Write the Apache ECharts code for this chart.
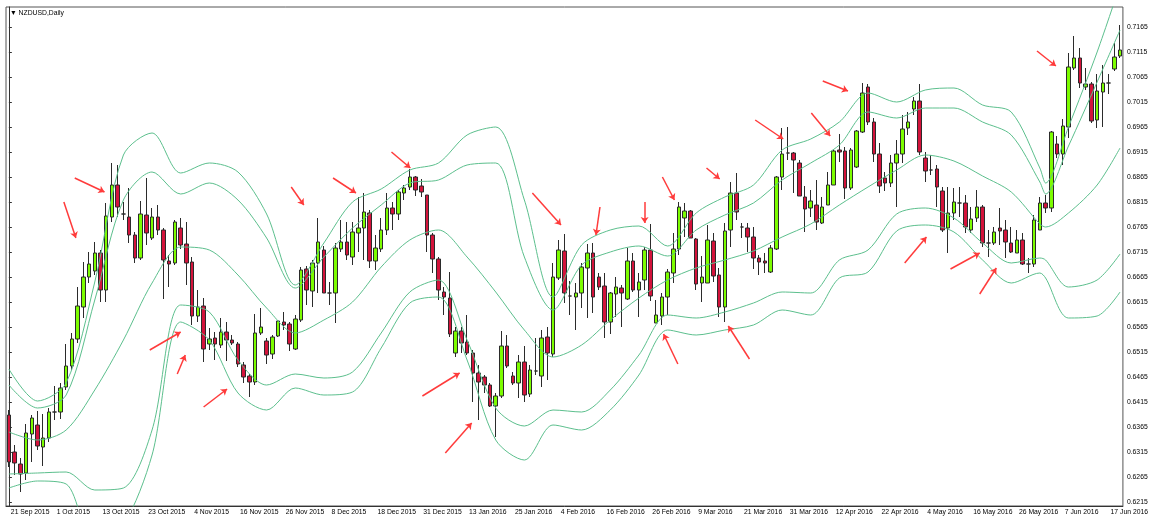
<!DOCTYPE html>
<html lang="en">
<head>
  <meta charset="UTF-8">
  <meta name="viewport" content="width=device-width, initial-scale=1.0">
  <title>NZDUSD,Daily</title>

  <style type="text/css">
    html, body {
      margin: 0;
      padding: 0;
      background: #fff;
    }
    #chart {
      width: 1151px;
      height: 517px;
    }
  </style>
</head>
<body>
  <div id="chart"></div>

  <script src="https://cdn.jsdelivr.net/npm/echarts@6.0.0/dist/echarts.min.js"></script>
  <script>
    // daily bars: every weekday from 21 Sep 2015, except the two closed days
    const firstDay = '2015-09-21'
    const closedDays = ['2015-12-25', '2016-01-01']
    const barCount = 195

    const opens = [
      0.6390, 0.6316, 0.6292, 0.6274, 0.6352, 0.6370, 0.6326, 0.6344, 0.6396, 0.6396,
      0.6446, 0.6488, 0.6542, 0.6606, 0.6666, 0.6678, 0.6714, 0.6640, 0.6786, 0.6850,
      0.6792, 0.6786, 0.6750, 0.6704, 0.6790, 0.6744, 0.6786, 0.6760, 0.6698, 0.6694,
      0.6764, 0.6732, 0.6696, 0.6588, 0.6608, 0.6532, 0.6544, 0.6530, 0.6556, 0.6540,
      0.6532, 0.6490, 0.6468, 0.6456, 0.6554, 0.6538, 0.6512, 0.6548, 0.6576, 0.6572,
      0.6522, 0.6580, 0.6682, 0.6638, 0.6694, 0.6720, 0.6634, 0.6634, 0.6722, 0.6736,
      0.6706, 0.6754, 0.6764, 0.6794, 0.6698, 0.6722, 0.6760, 0.6804, 0.6792, 0.6834,
      0.6846, 0.6866, 0.6848, 0.6830, 0.6750, 0.6702, 0.6636, 0.6624, 0.6514, 0.6558,
      0.6536, 0.6514, 0.6474, 0.6466, 0.6450, 0.6408, 0.6428, 0.6528, 0.6468, 0.6454,
      0.6496, 0.6432, 0.6478, 0.6468, 0.6546, 0.6512, 0.6664, 0.6718, 0.6628, 0.6626,
      0.6634, 0.6684, 0.6714, 0.6666, 0.6648, 0.6576, 0.6632, 0.6644, 0.6622, 0.6698,
      0.6640, 0.6660, 0.6720, 0.6574, 0.6588, 0.6626, 0.6674, 0.6722, 0.6784, 0.6798,
      0.6742, 0.6654, 0.6654, 0.6738, 0.6670, 0.6606, 0.6760, 0.6834, 0.6766, 0.6764,
      0.6746, 0.6704, 0.6698, 0.6676, 0.6722, 0.6866, 0.6914, 0.6914, 0.6894, 0.6826,
      0.6804, 0.6810, 0.6774, 0.6810, 0.6850, 0.6920, 0.6918, 0.6844, 0.6886, 0.6956,
      0.7046, 0.6976, 0.6912, 0.6864, 0.6854, 0.6894, 0.6912, 0.6964, 0.7002, 0.7018,
      0.6904, 0.6880, 0.6882, 0.6838, 0.6764, 0.6794, 0.6814, 0.6814, 0.6760, 0.6784,
      0.6806, 0.6734, 0.6734, 0.6764, 0.6760, 0.6734, 0.6714, 0.6740, 0.6692, 0.6692,
      0.6760, 0.6814, 0.6804, 0.6932, 0.6912, 0.6966, 0.7084, 0.7104, 0.7046, 0.7052,
      0.6980, 0.7036, 0.7054, 0.7082, 0.7108
    ]
    const closes = [
      0.6296, 0.6294, 0.6272, 0.6354, 0.6384, 0.6328, 0.6344, 0.6396, 0.6396, 0.6444,
      0.6488, 0.6542, 0.6608, 0.6666, 0.6692, 0.6714, 0.6640, 0.6788, 0.6850, 0.6806,
      0.6792, 0.6750, 0.6704, 0.6792, 0.6754, 0.6786, 0.6760, 0.6700, 0.6692, 0.6776,
      0.6730, 0.6694, 0.6588, 0.6606, 0.6522, 0.6542, 0.6532, 0.6556, 0.6540, 0.6534,
      0.6492, 0.6466, 0.6456, 0.6554, 0.6566, 0.6510, 0.6546, 0.6578, 0.6570, 0.6532,
      0.6582, 0.6680, 0.6640, 0.6694, 0.6736, 0.6634, 0.6634, 0.6724, 0.6736, 0.6710,
      0.6756, 0.6764, 0.6796, 0.6698, 0.6724, 0.6760, 0.6804, 0.6792, 0.6836, 0.6844,
      0.6866, 0.6840, 0.6836, 0.6750, 0.6702, 0.6640, 0.6626, 0.6552, 0.6558, 0.6534,
      0.6514, 0.6474, 0.6456, 0.6450, 0.6408, 0.6428, 0.6528, 0.6488, 0.6454, 0.6496,
      0.6430, 0.6480, 0.6478, 0.6544, 0.6514, 0.6666, 0.6720, 0.6634, 0.6628, 0.6634,
      0.6686, 0.6714, 0.6626, 0.6646, 0.6576, 0.6634, 0.6646, 0.6634, 0.6698, 0.6640,
      0.6656, 0.6720, 0.6628, 0.6590, 0.6626, 0.6676, 0.6722, 0.6806, 0.6798, 0.6744,
      0.6652, 0.6666, 0.6740, 0.6668, 0.6606, 0.6758, 0.6834, 0.6796, 0.6766, 0.6746,
      0.6704, 0.6696, 0.6694, 0.6724, 0.6866, 0.6912, 0.6914, 0.6900, 0.6828, 0.6802,
      0.6818, 0.6776, 0.6806, 0.6850, 0.6918, 0.6916, 0.6844, 0.6920, 0.6958, 0.7034,
      0.6976, 0.6912, 0.6848, 0.6854, 0.6894, 0.6912, 0.6962, 0.6976, 0.7018, 0.6916,
      0.6878, 0.6880, 0.6846, 0.6760, 0.6794, 0.6816, 0.6814, 0.6766, 0.6782, 0.6806,
      0.6734, 0.6734, 0.6756, 0.6758, 0.6736, 0.6716, 0.6740, 0.6692, 0.6692, 0.6780,
      0.6814, 0.6804, 0.6956, 0.6912, 0.6968, 0.7086, 0.7104, 0.7054, 0.7052, 0.6978,
      0.7038, 0.7054, 0.7054, 0.7106, 0.7120
    ]
    const lows = [
      0.6286, 0.6270, 0.6236, 0.6260, 0.6296, 0.6320, 0.6288, 0.6336, 0.6380, 0.6382,
      0.6440, 0.6480, 0.6534, 0.6584, 0.6654, 0.6670, 0.6616, 0.6616, 0.6776, 0.6786,
      0.6780, 0.6734, 0.6694, 0.6700, 0.6730, 0.6740, 0.6750, 0.6622, 0.6646, 0.6690,
      0.6722, 0.6650, 0.6570, 0.6576, 0.6496, 0.6520, 0.6500, 0.6524, 0.6498, 0.6530,
      0.6486, 0.6454, 0.6426, 0.6450, 0.6550, 0.6492, 0.6502, 0.6546, 0.6560, 0.6518,
      0.6520, 0.6576, 0.6610, 0.6606, 0.6634, 0.6634, 0.6610, 0.6574, 0.6716, 0.6700,
      0.6690, 0.6716, 0.6700, 0.6684, 0.6680, 0.6716, 0.6750, 0.6760, 0.6780, 0.6820,
      0.6840, 0.6828, 0.6826, 0.6716, 0.6674, 0.6620, 0.6590, 0.6546, 0.6506, 0.6514,
      0.6510, 0.6416, 0.6380, 0.6434, 0.6406, 0.6346, 0.6424, 0.6484, 0.6450, 0.6424,
      0.6416, 0.6426, 0.6470, 0.6446, 0.6460, 0.6506, 0.6660, 0.6614, 0.6590, 0.6560,
      0.6604, 0.6584, 0.6594, 0.6640, 0.6544, 0.6552, 0.6586, 0.6566, 0.6620, 0.6636,
      0.6586, 0.6640, 0.6618, 0.6574, 0.6570, 0.6590, 0.6654, 0.6710, 0.6746, 0.6744,
      0.6640, 0.6616, 0.6654, 0.6656, 0.6586, 0.6576, 0.6726, 0.6780, 0.6744, 0.6716,
      0.6682, 0.6670, 0.6674, 0.6674, 0.6720, 0.6840, 0.6900, 0.6834, 0.6828, 0.6756,
      0.6786, 0.6760, 0.6772, 0.6810, 0.6850, 0.6896, 0.6822, 0.6840, 0.6884, 0.6954,
      0.6970, 0.6896, 0.6834, 0.6838, 0.6846, 0.6806, 0.6894, 0.6950, 0.6990, 0.6910,
      0.6856, 0.6870, 0.6806, 0.6756, 0.6714, 0.6780, 0.6786, 0.6754, 0.6754, 0.6776,
      0.6726, 0.6706, 0.6730, 0.6730, 0.6704, 0.6714, 0.6714, 0.6690, 0.6674, 0.6686,
      0.6760, 0.6794, 0.6796, 0.6904, 0.6890, 0.6944, 0.7080, 0.7044, 0.7040, 0.6974,
      0.6964, 0.6966, 0.7032, 0.7078, 0.7104
    ]
    const highs = [
      0.6400, 0.6330, 0.6304, 0.6372, 0.6390, 0.6398, 0.6392, 0.6404, 0.6448, 0.6454,
      0.6532, 0.6554, 0.6646, 0.6696, 0.6716, 0.6736, 0.6720, 0.6814, 0.6894, 0.6890,
      0.6816, 0.6844, 0.6756, 0.6818, 0.6864, 0.6804, 0.6810, 0.6764, 0.6710, 0.6780,
      0.6784, 0.6776, 0.6706, 0.6640, 0.6624, 0.6564, 0.6556, 0.6584, 0.6576, 0.6550,
      0.6536, 0.6496, 0.6472, 0.6592, 0.6604, 0.6544, 0.6550, 0.6580, 0.6596, 0.6576,
      0.6590, 0.6686, 0.6688, 0.6700, 0.6784, 0.6728, 0.6656, 0.6734, 0.6780, 0.6776,
      0.6776, 0.6826, 0.6834, 0.6800, 0.6750, 0.6784, 0.6834, 0.6816, 0.6840, 0.6850,
      0.6882, 0.6868, 0.6862, 0.6830, 0.6754, 0.6706, 0.6646, 0.6676, 0.6566, 0.6566,
      0.6590, 0.6520, 0.6490, 0.6470, 0.6454, 0.6434, 0.6558, 0.6550, 0.6476, 0.6510,
      0.6528, 0.6490, 0.6544, 0.6560, 0.6566, 0.6694, 0.6740, 0.6752, 0.6658, 0.6654,
      0.6694, 0.6732, 0.6734, 0.6674, 0.6674, 0.6636, 0.6666, 0.6650, 0.6724, 0.6714,
      0.6674, 0.6726, 0.6772, 0.6620, 0.6634, 0.6682, 0.6754, 0.6816, 0.6814, 0.6800,
      0.6744, 0.6708, 0.6770, 0.6754, 0.6684, 0.6774, 0.6856, 0.6874, 0.6774, 0.6774,
      0.6766, 0.6710, 0.6714, 0.6730, 0.6868, 0.6964, 0.6966, 0.6916, 0.6900, 0.6848,
      0.6840, 0.6860, 0.6826, 0.6876, 0.6920, 0.6952, 0.6926, 0.6924, 0.6960, 0.7054,
      0.7052, 0.6984, 0.6934, 0.6876, 0.6910, 0.6940, 0.6990, 0.6996, 0.7026, 0.7052,
      0.6916, 0.6910, 0.6890, 0.6846, 0.6846, 0.6844, 0.6846, 0.6830, 0.6806, 0.6840,
      0.6810, 0.6760, 0.6766, 0.6804, 0.6780, 0.6766, 0.6760, 0.6754, 0.6704, 0.6790,
      0.6826, 0.6830, 0.6958, 0.6948, 0.6982, 0.7114, 0.7148, 0.7124, 0.7084, 0.7056,
      0.7072, 0.7090, 0.7072, 0.7134, 0.7170
    ]

    const priceTicks = [
      0.6215, 0.6265, 0.6315, 0.6365, 0.6415, 0.6465, 0.6515, 0.6565, 0.6615, 0.6665,
      0.6715, 0.6765, 0.6815, 0.6865, 0.6915, 0.6965, 0.7015, 0.7065, 0.7115, 0.7165
    ]

    // the five band lines at these bars
    const bandBars = [
      0, 5, 10, 15, 20, 25, 30, 35, 40, 45, 50, 55, 60, 65, 70, 75, 80, 85, 90, 95,
      100, 105, 110, 115, 120, 125, 130, 135, 140, 145, 150, 155, 160, 165, 170, 175, 180, 181, 185, 190, 194
    ]
    const upperOuter = [
      0.6482, 0.6418, 0.6454, 0.6656, 0.6910, 0.6954, 0.6874, 0.6894, 0.6876, 0.6792,
      0.6650, 0.6734, 0.6816, 0.6842, 0.6880, 0.6894, 0.6950, 0.6966, 0.6820, 0.6626,
      0.6730, 0.6760, 0.6768, 0.6728, 0.6794, 0.6826, 0.6850, 0.6920, 0.6942, 0.6976,
      0.7034, 0.7016, 0.7040, 0.7044, 0.7010, 0.6996, 0.6884, 0.6854, 0.6966, 0.7116, 0.7250
    ]
    const upperInner = [
      0.6450, 0.6404, 0.6430, 0.6620, 0.6820, 0.6876, 0.6832, 0.6854, 0.6820, 0.6744,
      0.6644, 0.6706, 0.6764, 0.6810, 0.6854, 0.6860, 0.6890, 0.6894, 0.6706, 0.6600,
      0.6690, 0.6716, 0.6728, 0.6708, 0.6760, 0.6790, 0.6814, 0.6860, 0.6894, 0.6930,
      0.6996, 0.6984, 0.7004, 0.7004, 0.6976, 0.6950, 0.6856, 0.6832, 0.6928, 0.7056, 0.7160
    ]
    const middleBand = [
      0.6356, 0.6340, 0.6360, 0.6440, 0.6540, 0.6654, 0.6726, 0.6720, 0.6670, 0.6604,
      0.6554, 0.6580, 0.6616, 0.6686, 0.6740, 0.6760, 0.6706, 0.6636, 0.6560, 0.6506,
      0.6530, 0.6580, 0.6624, 0.6660, 0.6684, 0.6700, 0.6718, 0.6746, 0.6772, 0.6810,
      0.6846, 0.6880, 0.6910, 0.6898, 0.6868, 0.6836, 0.6772, 0.6766, 0.6794, 0.6850, 0.6924
    ]
    const lowerInner = [
      0.6272, 0.6274, 0.6276, 0.6240, 0.6244, 0.6360, 0.6610, 0.6596, 0.6500, 0.6450,
      0.6472, 0.6464, 0.6476, 0.6554, 0.6636, 0.6660, 0.6540, 0.6404, 0.6368, 0.6400,
      0.6396, 0.6440, 0.6510, 0.6590, 0.6584, 0.6596, 0.6614, 0.6636, 0.6634, 0.6700,
      0.6720, 0.6792, 0.6804, 0.6784, 0.6734, 0.6694, 0.6704, 0.6700, 0.6646, 0.6660, 0.6712
    ]
    const lowerOuter = [
      0.6244, 0.6258, 0.6252, 0.6130, 0.6170, 0.6310, 0.6576, 0.6540, 0.6434, 0.6400,
      0.6444, 0.6430, 0.6436, 0.6524, 0.6614, 0.6626, 0.6500, 0.6340, 0.6300, 0.6370,
      0.6360, 0.6400, 0.6470, 0.6560, 0.6550, 0.6560, 0.6570, 0.6600, 0.6590, 0.6664,
      0.6676, 0.6758, 0.6770, 0.6756, 0.6700, 0.6654, 0.6674, 0.6664, 0.6584, 0.6588, 0.6636
    ]

    // hand drawn arrows: [from bar, from price, to bar, to price]
    const arrows = [
      [11.5, 0.6864, 16.7, 0.6836], [9.6, 0.6816, 11.7, 0.6744],
      [24.6, 0.6520, 30.0, 0.6556], [29.4, 0.6472, 30.8, 0.6510],
      [34.0, 0.6406, 38.1, 0.6442], [49.3, 0.6846, 51.5, 0.6810],
      [56.6, 0.6864, 60.6, 0.6834], [66.8, 0.6916, 70.1, 0.6884],
      [91.4, 0.6834, 96.4, 0.6770], [72.2, 0.6428, 78.7, 0.6474],
      [76.2, 0.6314, 80.8, 0.6374], [103.2, 0.6806, 102.5, 0.6750],
      [111.0, 0.6816, 111.0, 0.6774], [114.1, 0.6866, 116.2, 0.6820],
      [121.8, 0.6884, 124.1, 0.6862], [130.3, 0.6980, 135.2, 0.6942],
      [140.1, 0.6994, 143.4, 0.6948], [142.1, 0.7058, 146.5, 0.7038],
      [116.8, 0.6492, 114.3, 0.6552], [129.3, 0.6502, 125.6, 0.6568],
      [179.5, 0.7118, 182.8, 0.7088], [156.4, 0.6694, 160.2, 0.6746],
      [164.4, 0.6682, 169.5, 0.6714], [169.5, 0.6632, 172.4, 0.6684]
    ]

    const monthNames = ['Jan', 'Feb', 'Mar', 'Apr', 'May', 'Jun', 'Jul', 'Aug', 'Sep', 'Oct', 'Nov', 'Dec']

    function tradingDays (start, count, skip) {
      const days = []
      const d = new Date(start + 'T00:00:00Z')
      while (days.length < count) {
        const iso = d.toISOString().slice(0, 10)
        const wd = d.getUTCDay()
        if (wd !== 0 && wd !== 6 && !skip.includes(iso)) {
          days.push(d.getUTCDate() + ' ' + monthNames[d.getUTCMonth()] + ' ' + d.getUTCFullYear())
        }
        d.setUTCDate(d.getUTCDate() + 1)
      }
      return days
    }

    const dates = tradingDays(firstDay, barCount, closedDays)
    const candles = opens.map((o, i) => [o, closes[i], lows[i], highs[i]])

    const font = '"Liberation Sans", "DejaVu Sans", sans-serif'
    const bandColor = '#5cbf8d'

    function bandSeries (name, values) {
      return {
        name,
        type: 'line',
        xAxisIndex: 1,
        data: bandBars.map((b, k) => [b, values[k]]),
        showSymbol: false,
        smooth: 0.3,
        lineStyle: { color: bandColor, width: 1 },
        z: 3,
        silent: true
      }
    }

    const myChart = echarts.init(document.getElementById('chart'))

    const option = {
      animation: false,
      backgroundColor: '#fff',
      title: {
        text: '▼ NZDUSD,Daily',
        left: 10,
        top: 10,
        padding: 0,
        textStyle: { fontSize: 6.8, fontWeight: 'normal', fontFamily: font, color: '#000' }
      },
      grid: {
        left: 6,
        right: 25,
        top: 7,
        bottom: 11,
        show: true,
        borderColor: '#555',
        borderWidth: 1
      },
      xAxis: [
        {
          type: 'category',
          data: dates,
          axisLine: { lineStyle: { color: '#333' } },
          axisTick: { alignWithLabel: true, interval: 7, length: 3, lineStyle: { color: '#333' } },
          axisLabel: {
            interval: 7,
            align: 'left',
            margin: 3,
            padding: [0, 0, 0, 2],
            fontSize: 6.8,
            fontFamily: font,
            color: '#000'
          },
          splitLine: { show: false }
        },
        {
          type: 'value',
          min: -0.5,
          max: barCount - 0.5,
          show: false
        }
      ],
      yAxis: {
        type: 'value',
        position: 'right',
        min: 0.6208,
        max: 0.7206,
        axisLine: { show: true, lineStyle: { color: '#333' } },
        axisTick: { show: true, customValues: priceTicks, length: 3, lineStyle: { color: '#333' } },
        axisLabel: {
          customValues: priceTicks,
          formatter: v => v.toFixed(4),
          margin: 4,
          fontSize: 6.8,
          fontFamily: font,
          color: '#000'
        },
        splitLine: { show: false }
      },
      series: [
        {
          name: 'NZDUSD',
          type: 'candlestick',
          data: candles,
          barWidth: 4,
          itemStyle: {
            color: '#7cfc00',
            color0: '#d3133b',
            borderColor: '#2b2b2b',
            borderColor0: '#2b2b2b',
            borderWidth: 1
          },
          z: 2,
          silent: true
        },
        bandSeries('upper outer', upperOuter),
        bandSeries('upper inner', upperInner),
        bandSeries('middle', middleBand),
        bandSeries('lower inner', lowerInner),
        bandSeries('lower outer', lowerOuter),
        {
          name: 'arrows',
          type: 'lines',
          coordinateSystem: 'cartesian2d',
          xAxisIndex: 1,
          yAxisIndex: 0,
          symbol: ['none', 'arrow'],
          symbolSize: 6,
          lineStyle: { color: '#ff3b3b', width: 1.5, opacity: 1, curveness: 0 },
          data: arrows.map(a => ({ coords: [[a[0], a[1]], [a[2], a[3]]] })),
          z: 5,
          silent: true
        }
      ]
    }

    myChart.setOption(option)
  </script>
</body>
</html>
